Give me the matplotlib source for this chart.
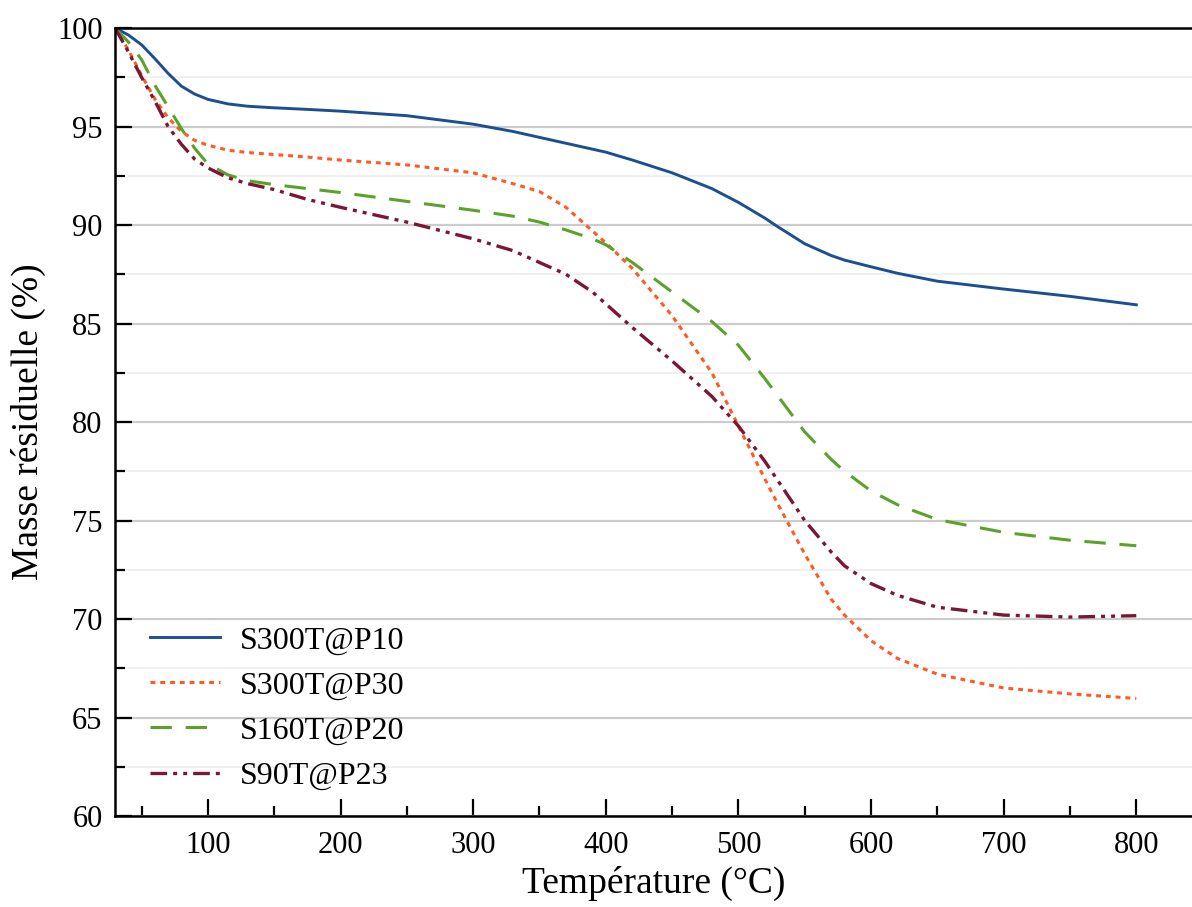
import numpy as np
import matplotlib.pyplot as plt
from matplotlib.ticker import MultipleLocator

# temperature grid (degC)
T = [30, 40, 50, 60, 70, 80, 90, 100, 115, 130, 150, 175, 200, 250, 300, 330, 350, 370,
     390, 400, 420, 450, 480, 500, 520, 530, 550, 570, 580, 600, 620, 650, 700, 750, 800]

s300_p10 = [100.0, 99.65, 99.15, 98.45, 97.7, 97.05, 96.65, 96.38, 96.15, 96.03, 95.95, 95.87, 95.78,
            95.55, 95.12, 94.75, 94.45, 94.15, 93.85, 93.7, 93.3, 92.65, 91.85, 91.15, 90.35,
            89.9, 89.05, 88.45, 88.22, 87.88, 87.55, 87.15, 86.75, 86.38, 85.95]
s300_p30 = [100.0, 98.9, 97.6, 96.4, 95.45, 94.75, 94.3, 94.05, 93.8, 93.68, 93.58, 93.45, 93.3,
            93.05, 92.65, 92.1, 91.7, 90.9, 89.7, 89.1, 87.8, 85.4, 82.5, 79.8, 77.1,
            75.8, 73.3, 71.0, 70.2, 68.9, 68.0, 67.2, 66.5, 66.2, 65.97]
s160_p20 = [100.0, 99.3, 98.4, 97.1, 96.0, 94.9, 93.9, 93.1, 92.55, 92.25, 92.05, 91.85, 91.65,
            91.2, 90.75, 90.45, 90.15, 89.75, 89.3, 89.0, 88.1, 86.6, 85.1, 83.9, 82.2,
            81.3, 79.5, 78.1, 77.5, 76.5, 75.8, 75.05, 74.4, 74.0, 73.72]
s90_p23 = [100.0, 98.8, 97.5, 96.3, 95.0, 94.1, 93.35, 92.9, 92.4, 92.1, 91.8, 91.3, 90.9,
           90.15, 89.3, 88.7, 88.1, 87.5, 86.6, 86.0, 84.8, 83.1, 81.3, 79.8, 78.0,
           77.0, 75.0, 73.4, 72.7, 71.8, 71.2, 70.6, 70.2, 70.1, 70.17]

labels = ['S300T@P10', 'S300T@P30', 'S160T@P20', 'S90T@P23']
colors = ['#1c4f91', '#ff5a24', '#5ba22b', '#7b1734']

plt.rcParams['font.family'] = ['Liberation Serif', 'DejaVu Serif']

fig = plt.figure(figsize=(11.92, 9.07), dpi=100)
ax = fig.add_axes([0.0965, 0.1003, 0.9035, 0.8688])

ax.plot(T, s300_p10, color=colors[0], lw=2.1, label=labels[0])
ax.plot(T, s300_p30, color=colors[1], lw=2.2, linestyle=(0, (1.6, 1.6)), label=labels[1])
ax.plot(T, s160_p20, color=colors[2], lw=2.2, linestyle=(0, (7, 4.5)), label=labels[2])
ax.plot(T, s90_p23, color=colors[3], lw=2.4, linestyle=(0, (5, 1.8, 1.2, 1.8, 1.2, 1.8)), label=labels[3])

ax.set_xlim(30, 842)
ax.set_ylim(60, 100)
ax.xaxis.set_major_locator(MultipleLocator(100))
ax.xaxis.set_minor_locator(MultipleLocator(50))
ax.yaxis.set_major_locator(MultipleLocator(5))
ax.yaxis.set_minor_locator(MultipleLocator(2.5))

ax.grid(axis='y', which='major', color='#cccccc', lw=1.6)
ax.grid(axis='y', which='minor', color='#eeeeee', lw=1.2)
ax.set_axisbelow(True)

ax.tick_params(which='major', direction='in', length=12, width=1.6, labelsize=22)
ax.tick_params(axis='x', which='major', pad=11)
ax.tick_params(axis='y', which='major', pad=9)
ax.tick_params(which='minor', direction='in', length=7, width=1.6)
ax.tick_params(axis='y', which='both', right=False)
ax.tick_params(axis='x', which='both', top=False)

for side in ['left', 'bottom', 'top']:
    ax.spines[side].set_linewidth(1.8)
ax.spines['right'].set_visible(False)

ax.set_xlabel('Température (°C)', fontsize=27, labelpad=4)
ax.set_ylabel('Masse résiduelle (%)', fontsize=27, labelpad=8)

ax.legend(loc='upper left', bbox_to_anchor=(0.0204, 0.257), frameon=False, fontsize=23,
          handlelength=2.2, handletextpad=0.62, labelspacing=0.49, borderaxespad=0.0)

fig.savefig('out.png', dpi=100)
